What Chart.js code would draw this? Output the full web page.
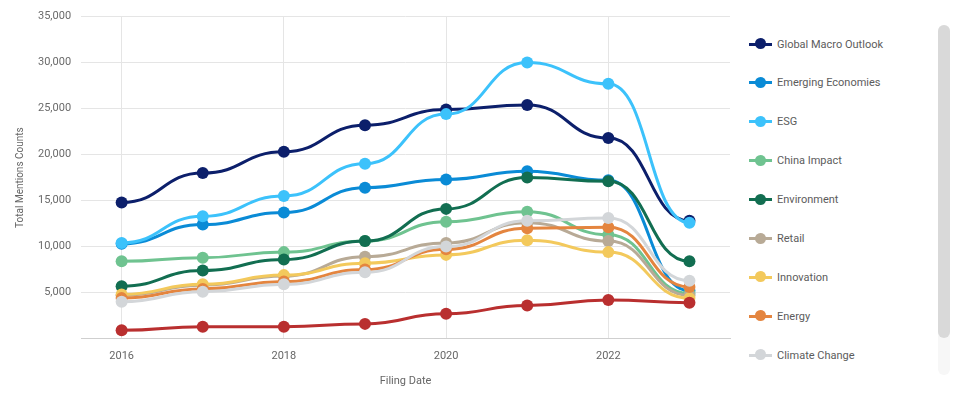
<!DOCTYPE html>
<html>
<head>
<meta charset="utf-8">
<script src="https://cdn.jsdelivr.net/npm/chart.js@4"></script>
<style>
  html, body { margin: 0; padding: 0; background: #fff; }
  body { width: 975px; height: 400px; position: relative; overflow: hidden; font-family: Roboto, "Noto Sans", sans-serif; }
  #wrap { position: absolute; left: 0; top: 0; width: 740px; height: 400px; }
  #legend { position: absolute; left: 745px; top: 25px; width: 185px; height: 350px; overflow: hidden; }
  .item { position: absolute; left: 4px; height: 20px; display: flex; align-items: center; font-size: 11px; color: #5c5c5c; white-space: nowrap; }
  .mk { position: relative; width: 23px; height: 12px; margin-right: 5px; }
  .mk .ln { position: absolute; left: 0; top: 4.5px; width: 23px; height: 3px; }
  .mk .dt { position: absolute; left: 6px; top: 0; width: 11px; height: 11px; border-radius: 50%; }
  #track { position: absolute; left: 938px; top: 25px; width: 12px; height: 350px; background: #f7f7f7; border-radius: 6px; }
  #thumb { position: absolute; left: 938px; top: 25px; width: 12px; height: 313px; background: #d9d9d9; border-radius: 6px; }
</style>
</head>
<body>
<div id="wrap"><canvas id="c"></canvas></div>
<div id="legend"></div>
<div id="track"></div>
<div id="thumb"></div>
<script>
const years = [2016, 2017, 2018, 2019, 2020, 2021, 2022, 2023];
const xTicks = [2016, 2018, 2020, 2022];
const seriesNames = ["Global Macro Outlook", "Emerging Economies", "ESG", "China Impact", "Environment", "Retail", "Innovation", "Energy", "Climate Change", "Inflation"];
const seriesColors = ["#0c1f6b", "#0a8bd6", "#3cc2fb", "#6fc390", "#126e51", "#b8aa96", "#f3c95c", "#e4853f", "#d3d6d9", "#b92f2f"];
const globalMacro = [14800, 18000, 20300, 23200, 24900, 25400, 21800, 12800];
const emerging    = [10300, 12400, 13700, 16400, 17300, 18200, 17200, 5200];
const esg         = [10400, 13300, 15500, 19000, 24400, 30000, 27700, 12600];
const china       = [8400, 8800, 9400, 10600, 12700, 13800, 11300, 4900];
const environment = [5700, 7400, 8600, 10600, 14100, 17500, 17100, 8400];
const retail      = [4700, 5800, 6800, 8900, 10400, 12600, 10600, 4700];
const innovation  = [4800, 5900, 6900, 8200, 9100, 10700, 9400, 4400];
const energy      = [4400, 5400, 6200, 7500, 9700, 12000, 12100, 5600];
const climate     = [4000, 5100, 5900, 7200, 10000, 12800, 13100, 6300];
const inflation   = [900, 1300, 1300, 1600, 2700, 3600, 4200, 3900];
const seriesValues = [globalMacro, emerging, esg, china, environment, retail, innovation, energy, climate, inflation];

const FONT = "Roboto, 'Noto Sans', sans-serif";

const datasets = seriesNames.map((name, i) => ({
  label: name,
  data: years.map((yr, j) => ({ x: yr, y: seriesValues[i][j] })),
  borderColor: seriesColors[i],
  backgroundColor: seriesColors[i],
  pointBackgroundColor: seriesColors[i],
  pointBorderColor: seriesColors[i],
  borderWidth: 3,
  pointRadius: 6,
  pointBorderWidth: 0,
  tension: 0.4,
  order: seriesNames.length - i
}));

// horizontal-tangent ("bump") curve between consecutive points
const bumpCurve = {
  id: 'bumpCurve',
  beforeDatasetsDraw(chart) {
    chart.data.datasets.forEach((ds, di) => {
      const meta = chart.getDatasetMeta(di);
      if (!meta.dataset) return;
      meta.dataset.updateControlPoints(chart.chartArea, 'x');
      const pts = meta.data;
      for (let k = 0; k < pts.length; k++) {
        const p = pts[k];
        const prev = pts[k - 1], next = pts[k + 1];
        p.cp1x = prev ? (prev.x + p.x) / 2 : p.x;
        p.cp1y = p.y;
        p.cp2x = next ? (p.x + next.x) / 2 : p.x;
        p.cp2y = p.y;
      }
    });
  }
};

new Chart(document.getElementById('c'), {
  type: 'line',
  data: { datasets },
  plugins: [bumpCurve],
  options: {
    responsive: true,
    maintainAspectRatio: false,
    animation: false,
    events: [],
    layout: { padding: { top: 2, right: 10, left: 14, bottom: 12 } },
    plugins: { legend: { display: false }, tooltip: { enabled: false } },
    scales: {
      x: {
        type: 'linear',
        min: 2015.5,
        max: 2023.5,
        afterBuildTicks: (axis) => { axis.ticks = xTicks.map(v => ({ value: v })); },
        ticks: { color: '#666', font: { family: FONT, size: 11 }, padding: 11, callback: v => String(v) },
        grid: { color: '#e5e5e5', drawTicks: false },
        border: { display: true, color: '#cfcfcf' },
        title: { display: true, text: 'Filing Date', color: '#666', font: { family: FONT, size: 11 }, padding: { top: 1, bottom: 0 } }
      },
      y: {
        min: 0,
        max: 35000,
        ticks: {
          stepSize: 5000,
          color: '#6a6a6a',
          font: { family: FONT, size: 11 },
          padding: 10,
          callback: v => v === 0 ? '' : v.toLocaleString('en-US')
        },
        grid: { color: '#e5e5e5', drawTicks: false },
        border: { display: false },
        title: { display: true, text: 'Total Mentions Counts', color: '#666', font: { family: FONT, size: 10 }, padding: { bottom: 2, top: 0 } }
      }
    }
  }
});

const legend = document.getElementById('legend');
seriesNames.forEach((name, i) => {
  const it = document.createElement('div');
  it.className = 'item';
  it.style.top = (9 + i * 38.9) + 'px';
  it.innerHTML = '<div class="mk"><div class="ln" style="background:' + seriesColors[i] + '"></div><div class="dt" style="background:' + seriesColors[i] + '"></div></div><span>' + name + '</span>';
  legend.appendChild(it);
});
</script>
</body>
</html>
